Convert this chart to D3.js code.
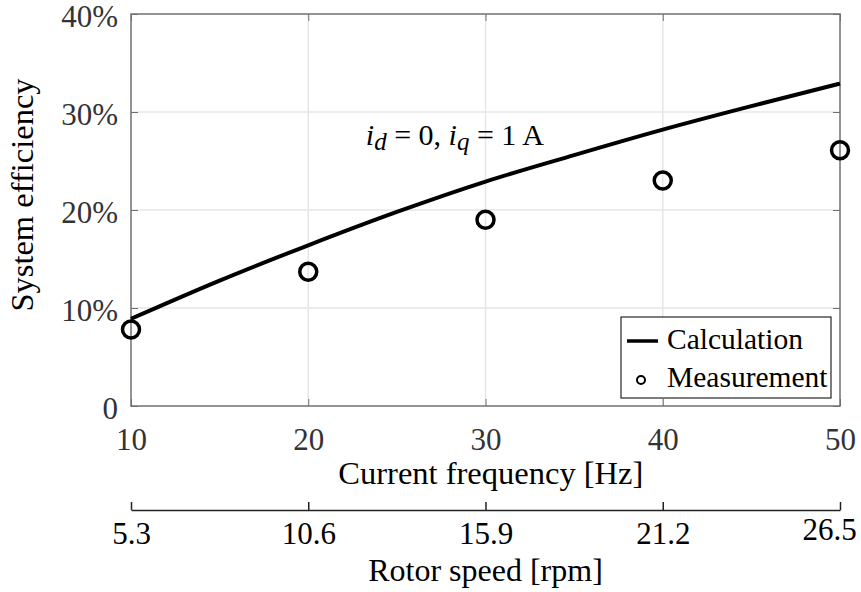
<!DOCTYPE html>
<html>
<head>
<meta charset="utf-8">
<script src="https://cdn.jsdelivr.net/npm/d3@7"></script>
<style>
  body { margin: 0; background: #fff; }
  svg text { font-family: "Liberation Serif", "Times New Roman", serif; }
</style>
</head>
<body>
<script>
// x ticks of the two horizontal axes
var freqTicks = [10, 20, 30, 40, 50];
var rpmTicks = [5.3, 10.6, 15.9, 21.2, 26.5];
var effTicks = [0, 10, 20, 30, 40];

// calculated efficiency curve (%)
var calcFreq = [10, 15, 20, 25, 30, 35, 40, 45, 50];
var calcEff = [8.9, 12.8, 16.4, 19.8, 22.9, 25.6, 28.2, 30.6, 32.9];

// measured points (%)
var measFreq = [10, 20, 30, 40, 50];
var measEff = [7.8, 13.7, 19.0, 23.0, 26.1];

var W = 861, H = 592;
var margin = {top: 14, right: 21, bottom: 186, left: 131};
var width = W - margin.left - margin.right;
var height = H - margin.top - margin.bottom;

var svg = d3.select("body").append("svg")
    .attr("width", W)
    .attr("height", H);

var g = svg.append("g")
    .attr("transform", "translate(" + margin.left + "," + margin.top + ")");

var x = d3.scaleLinear().domain([10, 50]).range([0, width]);
var y = d3.scaleLinear().domain([0, 40]).range([height, 0]);
var x2 = d3.scaleLinear().domain([5.3, 26.5]).range([0, width]);

//grid lines
g.append("g").selectAll("line.gx")
    .data(freqTicks.slice(1, -1))
    .enter().append("line")
    .attr("x1", function(d){ return x(d); })
    .attr("x2", function(d){ return x(d); })
    .attr("y1", 0).attr("y2", height)
    .attr("stroke", "#e6e6e6").attr("stroke-width", 1.5);

g.append("g").selectAll("line.gy")
    .data(effTicks.slice(1, -1))
    .enter().append("line")
    .attr("x1", 0).attr("x2", width)
    .attr("y1", function(d){ return y(d); })
    .attr("y2", function(d){ return y(d); })
    .attr("stroke", "#e6e6e6").attr("stroke-width", 1.5);

var axisColor = "#707070";
var tickFont = "31px";

// left axis with labels, ticks pointing inward
var yAxis = g.append("g")
    .call(d3.axisLeft(y).tickValues(effTicks).tickSize(-7).tickPadding(13)
        .tickFormat(function(d){ return d ? d + "%" : "0"; }));
yAxis.select(".domain").remove();
yAxis.selectAll("line").attr("stroke", axisColor);
yAxis.selectAll("text")
    .attr("dy", "0.4em")
    .attr("fill", "#333")
    .style("font-size", tickFont);

// right axis, ticks only
var yAxisR = g.append("g")
    .attr("transform", "translate(" + width + ",0)")
    .call(d3.axisRight(y).tickValues(effTicks).tickSize(-7).tickFormat(""));
yAxisR.select(".domain").remove();
yAxisR.selectAll("line").attr("stroke", axisColor);

// bottom axis (frequency)
var xAxis = g.append("g")
    .attr("transform", "translate(0," + height + ")")
    .call(d3.axisBottom(x).tickValues(freqTicks).tickSize(-7).tickPadding(0));
xAxis.select(".domain").remove();
xAxis.selectAll("line").attr("stroke", axisColor);
xAxis.selectAll("text")
    .attr("y", 44).attr("dy", null)
    .attr("fill", "#333")
    .style("font-size", tickFont);

// top axis, ticks only
var xAxisT = g.append("g")
    .call(d3.axisTop(x).tickValues(freqTicks).tickSize(-7).tickFormat(""));
xAxisT.select(".domain").remove();
xAxisT.selectAll("line").attr("stroke", axisColor);

// box
g.append("rect")
    .attr("width", width).attr("height", height)
    .attr("fill", "none")
    .attr("stroke", axisColor).attr("stroke-width", 1.5);

// calculation curve
var line = d3.line()
    .x(function(d, i){ return x(calcFreq[i]); })
    .y(function(d){ return y(d); })
    .curve(d3.curveMonotoneX);

g.append("path")
    .datum(calcEff)
    .attr("d", line)
    .attr("fill", "none")
    .attr("stroke", "#000")
    .attr("stroke-width", 4);

// measurement circles
g.selectAll("circle.meas")
    .data(measEff)
    .enter().append("circle")
    .attr("class", "meas")
    .attr("cx", function(d, i){ return x(measFreq[i]); })
    .attr("cy", function(d){ return y(d); })
    .attr("r", 8.5)
    .attr("fill", "none")
    .attr("stroke", "#000")
    .attr("stroke-width", 3.5);

// annotation
var ann = g.append("text")
    .attr("x", x(23.25))
    .attr("y", y(26.6))
    .style("font-size", "30px");
ann.append("tspan").style("font-style", "italic").text("i");
ann.append("tspan").style("font-style", "italic").style("font-size", "25px")
    .attr("dy", 5).text("d");
ann.append("tspan").attr("dy", -5).text(" = 0, ");
ann.append("tspan").style("font-style", "italic").text("i");
ann.append("tspan").style("font-style", "italic").style("font-size", "25px")
    .attr("dy", 5).text("q");
ann.append("tspan").attr("dy", -5).text(" = 1 A");

// legend
var lg = g.append("g").attr("transform", "translate(" + (width - 219) + "," + (height - 89) + ")");
lg.append("rect")
    .attr("width", 210).attr("height", 81)
    .attr("fill", "#fff")
    .attr("stroke", "#262626").attr("stroke-width", 1.2);
lg.append("line")
    .attr("x1", 6).attr("x2", 37).attr("y1", 24).attr("y2", 24)
    .attr("stroke", "#000").attr("stroke-width", 3.5);
lg.append("circle")
    .attr("cx", 20).attr("cy", 63).attr("r", 4)
    .attr("fill", "none").attr("stroke", "#000").attr("stroke-width", 2);
lg.append("text").attr("x", 46).attr("y", 32).style("font-size", "29.5px").text("Calculation");
lg.append("text").attr("x", 46).attr("y", 70).style("font-size", "29.5px").text("Measurement");

// axis titles
g.append("text")
    .attr("x", x(30.3)).attr("y", height + 78)
    .attr("text-anchor", "middle")
    .style("font-size", "32.5px")
    .text("Current frequency [Hz]");

svg.append("text")
    .attr("transform", "translate(33," + 195 + ") rotate(-90)")
    .attr("text-anchor", "middle")
    .style("font-size", "32.5px")
    .text("System efficiency");

// secondary axis (rotor speed)
var rAxis = g.append("g")
    .attr("transform", "translate(0," + (height + 104) + ")")
    .call(d3.axisBottom(x2).tickValues(rpmTicks).tickSize(-8).tickSizeOuter(0)
        .tickFormat(d3.format(".1f")));
rAxis.select(".domain").attr("stroke", "#222").attr("stroke-width", 1.5);
rAxis.selectAll("line").attr("stroke", "#222").attr("stroke-width", 1.5);
rAxis.selectAll("text")
    .attr("y", 34).attr("dy", null)
    .attr("fill", "#000")
    .style("font-size", tickFont);
rAxis.selectAll(".tick").filter(function(d, i){ return i === rpmTicks.length - 1; })
    .select("text").attr("x", -11).attr("y", 30);

g.append("text")
    .attr("x", x2(15.9)).attr("y", height + 175)
    .attr("text-anchor", "middle")
    .style("font-size", "32px")
    .text("Rotor speed [rpm]");
</script>
</body>
</html>
